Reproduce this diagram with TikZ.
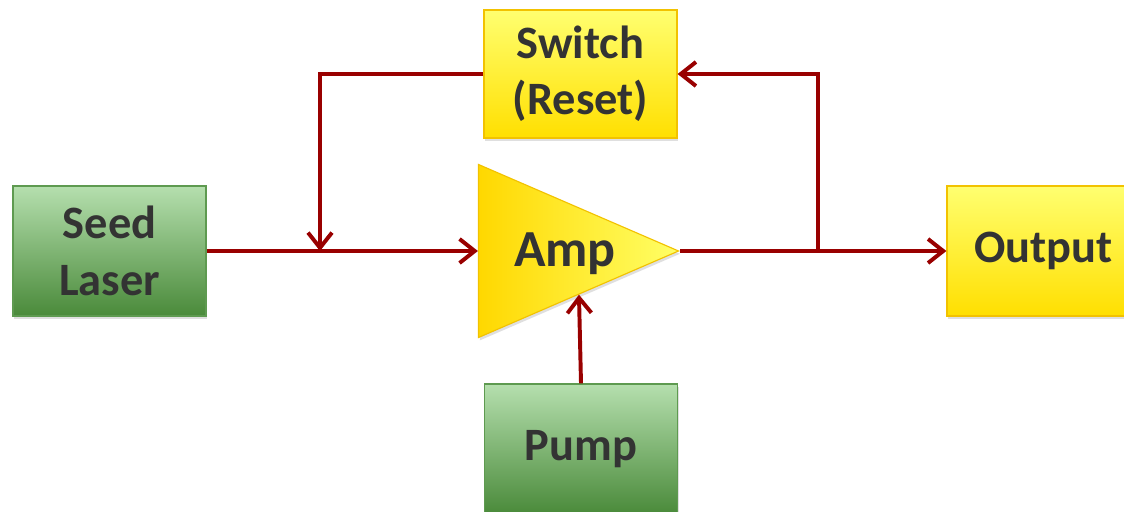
\documentclass[tikz,border=0pt]{standalone}
\usepackage{fontspec}
\setmainfont{Carlito}
\usepackage{tikz}
\usetikzlibrary{arrows.meta, positioning, shapes.geometric, shadows}
\usepackage{xcolor}
\definecolor{wirered}{HTML}{990000}
\definecolor{gtop}{HTML}{B5DFAE}
\definecolor{gbot}{HTML}{4A8A3A}
\definecolor{gedge}{HTML}{5E9A50}
\definecolor{ytop}{HTML}{FFFF70}
\definecolor{ybot}{HTML}{FFDF00}
\definecolor{yedge}{HTML}{F2C200}
\definecolor{aleft}{HTML}{FFD800}
\definecolor{aright}{HTML}{FFFF66}
\definecolor{ink}{HTML}{333333}
\tikzset{
  bigtext/.style={text=ink, font=\fontsize{33}{40}\selectfont\bfseries, align=center},
  gbox/.style={bigtext, draw=gedge, thick, top color=gtop, bottom color=gbot,
               minimum width=4.825cm, minimum height=3.25cm, inner sep=0pt,
               drop shadow={opacity=0.25, shadow xshift=1pt, shadow yshift=-2pt}},
  ybox/.style={bigtext, draw=yedge, thick, top color=ytop, bottom color=ybot,
               minimum width=4.825cm, minimum height=3.2cm, inner sep=0pt,
               drop shadow={opacity=0.25, shadow xshift=1pt, shadow yshift=-2pt}},
  ampbox/.style={isosceles triangle, isosceles triangle stretches,
                 minimum width=4.325cm, minimum height=5cm, inner sep=0pt,
                 draw=yedge, thick, left color=aleft, right color=aright,
                 drop shadow={opacity=0.25, shadow xshift=1pt, shadow yshift=-2pt}},
  wire/.style={-{Straight Barb[length=0.38cm, width=0.6cm]}, line width=2.8pt, wirered},
}

\begin{document}
\begin{tikzpicture}[x=0.025cm, y=-0.025cm]
  \clip (0,0) rectangle (1124,512);
  \fill[white] (0,0) rectangle (1124,512);

  \node[gbox] (seed) at (109.5,251) {Seed\\Laser};
  \node[ybox] (switch) at (580.5,74) {Switch\\(Reset)};
  \node[ampbox, anchor=apex] (amp) at (680,251) {};
  \node[bigtext, font=\fontsize{37}{44}\selectfont\bfseries] (amplabel) at (565,254) {Amp};
  \node[ybox, minimum height=3.25cm] (output) at (1043.5,251) {Output};
  \node[gbox] (pump) at (581,449) {Pump};

  \coordinate (tap) at (818,251);
  \coordinate (join) at (320,251);

  \draw[wire] (seed.east) -- (amp.west);
  \draw[wire] (amp.apex) -- (output.west);
  \draw[wire] (tap) |- (switch.east);
  \draw[wire] (switch.west) -| (join);
  \draw[wire] (pump.north) -- (amp.right side);
\end{tikzpicture}
\end{document}
